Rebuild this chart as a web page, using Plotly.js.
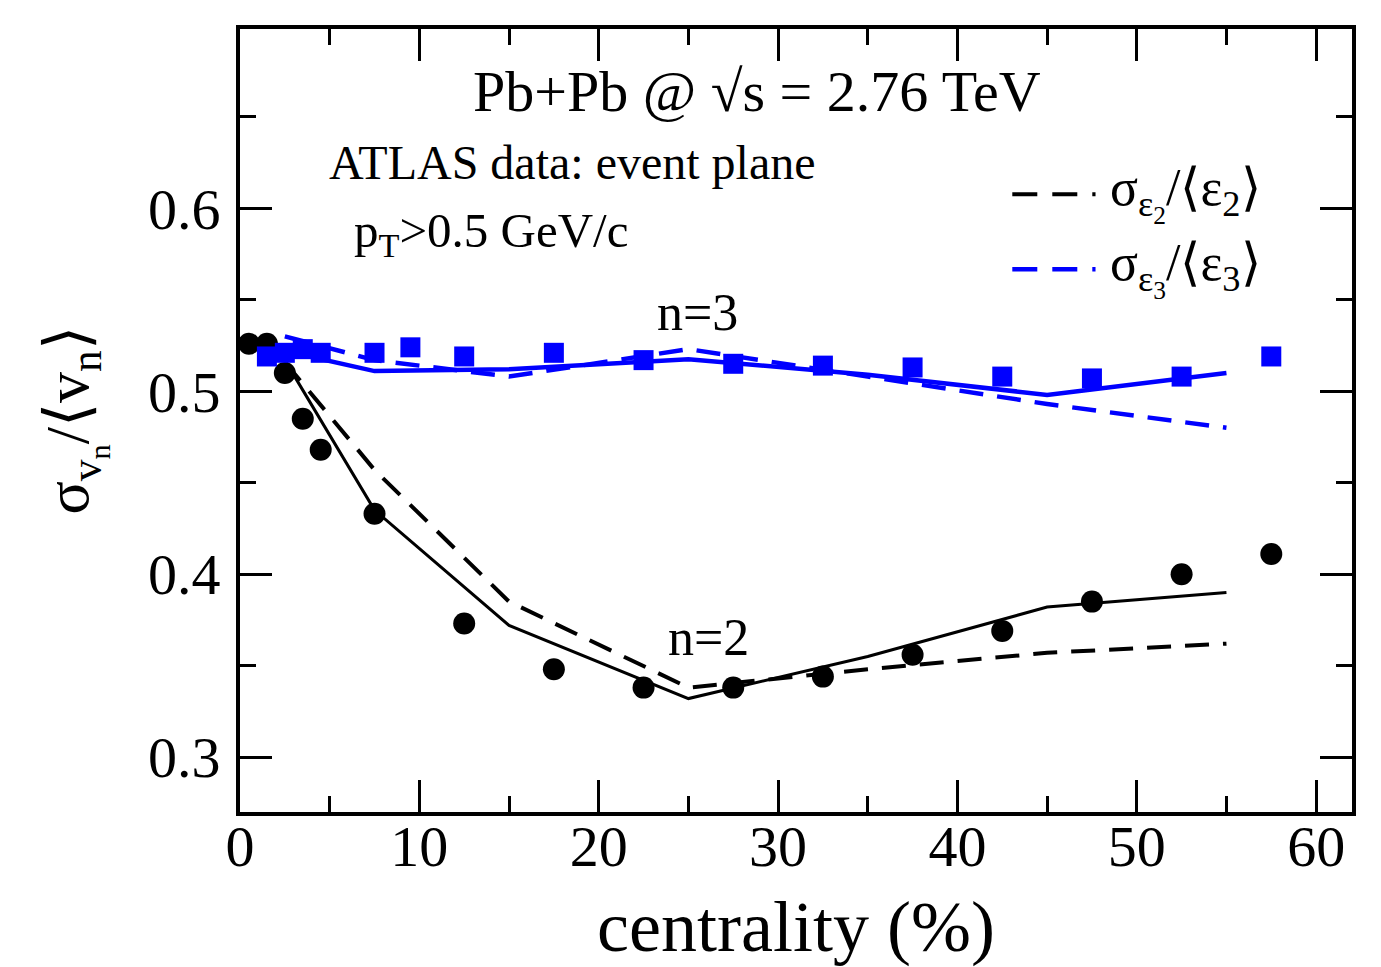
<!DOCTYPE html>
<html>
<head>
<meta charset="utf-8">
<script src="https://cdn.plot.ly/plotly-3.0.1.min.js"></script>
<style>html,body{margin:0;padding:0;background:#fff;}#chart{width:1381px;height:967px;}</style>
</head>
<body>
<div id="chart"></div>
<script>
// ATLAS data (centrality %, sigma/<v>)
const v2DataX = [0.5, 1.5, 2.5, 3.5, 4.5, 7.5, 12.5, 17.5, 22.5, 27.5, 32.5, 37.5, 42.5, 47.5, 52.5, 57.5];
const v2DataY = [0.526, 0.526, 0.510, 0.485, 0.468, 0.433, 0.373, 0.348, 0.338, 0.338, 0.344, 0.356, 0.369, 0.385, 0.400, 0.411];
const v3DataX = [1.5, 2.5, 3.5, 4.5, 7.5, 9.5, 12.5, 17.5, 22.5, 27.5, 32.5, 37.5, 42.5, 47.5, 52.5, 57.5];
const v3DataY = [0.519, 0.521, 0.523, 0.521, 0.521, 0.524, 0.519, 0.521, 0.517, 0.515, 0.514, 0.513, 0.508, 0.507, 0.508, 0.519];
// hydro curves
const hydroX = [2.5, 7.5, 15, 25, 35, 45, 55];
const hydroV2 = [0.517, 0.435, 0.372, 0.332, 0.355, 0.382, 0.390];
const hydroE2 = [0.516, 0.457, 0.385, 0.338, 0.348, 0.357, 0.362];
const hydroV3 = [0.522, 0.511, 0.512, 0.5175, 0.509, 0.498, 0.510];
const hydroE3 = [0.530, 0.517, 0.508, 0.523, 0.508, 0.493, 0.480];

const BLUE = '#0000ff';
const FONT = 'Liberation Serif, Times New Roman, serif';

const traces = [
  {x: hydroX, y: hydroE2, mode: 'lines', line: {color: '#000', width: 4, dash: '24px,14px'}, showlegend: false, hoverinfo: 'skip'},
  {x: hydroX, y: hydroV2, mode: 'lines', line: {color: '#000', width: 3}, showlegend: false},
  {x: hydroX, y: hydroE3, mode: 'lines', line: {color: BLUE, width: 4.5, dash: '24px,14px'}, showlegend: false},
  {x: hydroX, y: hydroV3, mode: 'lines', line: {color: BLUE, width: 4.5}, showlegend: false},
  {x: v2DataX, y: v2DataY, mode: 'markers', marker: {symbol: 'circle', size: 22, color: '#000'}, showlegend: false},
  {x: v3DataX, y: v3DataY, mode: 'markers', marker: {symbol: 'square', size: 20, color: BLUE}, showlegend: false}
];

const axisCommon = {
  showline: true, linewidth: 4, linecolor: '#000', mirror: 'allticks',
  ticks: 'inside', ticklen: 32, tickwidth: 3, tickcolor: '#000',
  showgrid: false, zeroline: false,
  tickfont: {family: FONT, size: 58, color: '#000'}
};

const layout = {
  width: 1381, height: 967,
  margin: {l: 240, r: 29, t: 29, b: 155},
  paper_bgcolor: '#fff', plot_bgcolor: '#fff',
  font: {family: FONT, color: '#000'},
  showlegend: false,
  xaxis: Object.assign({}, axisCommon, {
    range: [0, 62], dtick: 10, tick0: 0,
    minor: {ticks: 'inside', ticklen: 16, tickwidth: 3, dtick: 5, tickcolor: '#000'},
    ticklabelstandoff: -20,
    title: {text: 'centrality (%)', font: {family: FONT, size: 72, color: '#000'}, standoff: 53}
  }),
  yaxis: Object.assign({}, axisCommon, {
    range: [0.27, 0.698], dtick: 0.1, tick0: 0,
    tickformat: '.1f',
    minor: {ticks: 'inside', ticklen: 16, tickwidth: 3, dtick: 0.05, tickcolor: '#000'},
    ticklabelstandoff: 4,
    title: {text: 'σ<sub>v<sub>n</sub></sub>/⟨v<sub>n</sub>⟩', font: {family: FONT, size: 62, color: '#000'}, standoff: 40}
  }),
  annotations: [
    {x: 28.8, y: 0.664, xref: 'x', yref: 'y', text: 'Pb+Pb @ √s = 2.76 TeV', showarrow: false,
     font: {family: FONT, size: 58, color: '#000'}, xanchor: 'center', yanchor: 'middle'},
    {x: 4.85, y: 0.625, xref: 'x', yref: 'y', text: 'ATLAS data: event plane', showarrow: false,
     font: {family: FONT, size: 48, color: '#000'}, xanchor: 'left', yanchor: 'middle'},
    {x: 6.25, y: 0.586, xref: 'x', yref: 'y', text: 'p<sub>T</sub>&gt;0.5 GeV/c', showarrow: false,
     font: {family: FONT, size: 49, color: '#000'}, xanchor: 'left', yanchor: 'middle'},
    {x: 25.5, y: 0.543, xref: 'x', yref: 'y', text: 'n=3', showarrow: false,
     font: {family: FONT, size: 52, color: '#000'}, xanchor: 'center', yanchor: 'middle'},
    {x: 26.1, y: 0.3656, xref: 'x', yref: 'y', text: 'n=2', showarrow: false,
     font: {family: FONT, size: 52, color: '#000'}, xanchor: 'center', yanchor: 'middle'},
    {x: 48.4, y: 0.6077, xref: 'x', yref: 'y', text: 'σ<sub>ε<sub>2</sub></sub>/⟨ε<sub>2</sub>⟩', showarrow: false,
     font: {family: FONT, size: 52, color: '#000'}, xanchor: 'left', yanchor: 'middle'},
    {x: 48.4, y: 0.5667, xref: 'x', yref: 'y', text: 'σ<sub>ε<sub>3</sub></sub>/⟨ε<sub>3</sub>⟩', showarrow: false,
     font: {family: FONT, size: 52, color: '#000'}, xanchor: 'left', yanchor: 'middle'}
  ],
  shapes: [
    {type: 'line', xref: 'x', yref: 'y', x0: 43.06, x1: 47.7, y0: 0.6077, y1: 0.6077,
     line: {color: '#000', width: 4, dash: '25px,15px'}},
    {type: 'line', xref: 'x', yref: 'y', x0: 43.06, x1: 47.7, y0: 0.5667, y1: 0.5667,
     line: {color: BLUE, width: 4.5, dash: '25px,15px'}}
  ]
};

Plotly.newPlot('chart', traces, layout, {displayModeBar: false, staticPlot: true});
</script>
</body>
</html>
